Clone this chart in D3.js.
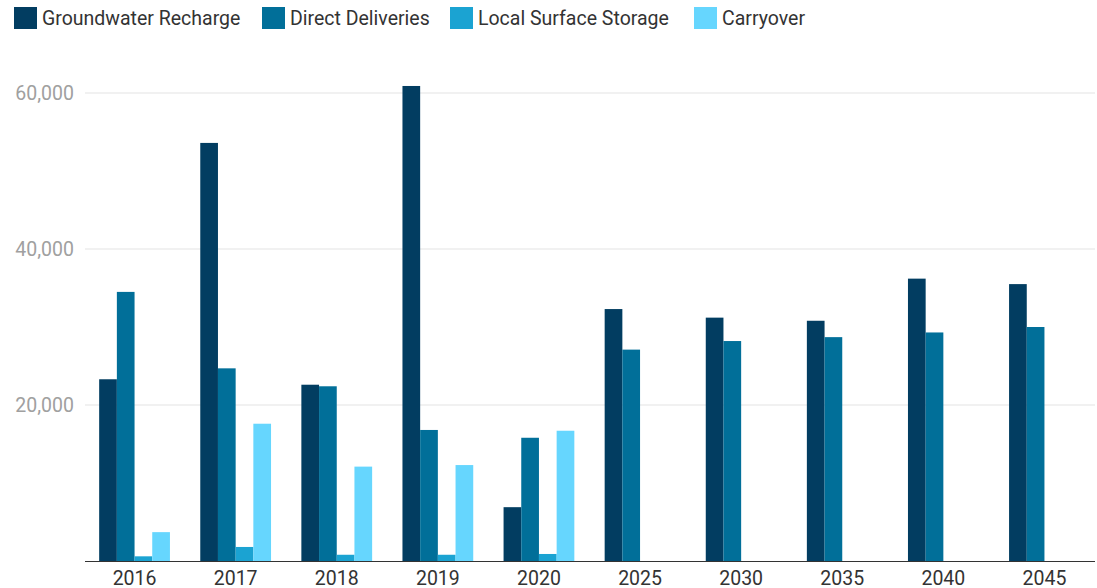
<!DOCTYPE html>
<html>
<head>
<meta charset="utf-8">
<script src="https://cdn.jsdelivr.net/npm/d3@7"></script>
<style>
  html, body { margin: 0; padding: 0; background: #fff; }
  svg { display: block; font-family: Roboto, "Noto Sans", sans-serif; }
</style>
</head>
<body>
<svg id="chart" width="1097" height="588"></svg>
<script>
// Water supply allocation by year (acre-feet)
const years = ["2016", "2017", "2018", "2019", "2020", "2025", "2030", "2035", "2040", "2045"];
const seriesNames = ["Groundwater Recharge", "Direct Deliveries", "Local Surface Storage", "Carryover"];
const groundwaterRecharge = [23300, 53600, 22600, 60900, 6900, 32300, 31200, 30800, 36200, 35500];
const directDeliveries    = [34500, 24700, 22400, 16800, 15800, 27100, 28200, 28700, 29300, 30000];
const localSurfaceStorage = [600, 1800, 800, 800, 900, null, null, null, null, null];
const carryover           = [3700, 17600, 12100, 12300, 16700, null, null, null, null, null];
const yTicks = [20000, 40000, 60000];
const colors = ["#023d61", "#016f99", "#1ba3d2", "#66d6fe"];

const values = [groundwaterRecharge, directDeliveries, localSurfaceStorage, carryover];
const rows = years.map((yr, i) => ({
  year: yr,
  vals: seriesNames.map((s, k) => ({ key: s, value: values[k][i], k }))
}));

const svg = d3.select("#chart");
const plotLeft = 84, plotRight = 1095, plotTop = 93, plotBottom = 561;
const fontSize = 19.5;

const x0 = d3.scaleBand().domain(years).range([plotLeft, plotRight]).paddingInner(0.3).paddingOuter(0.15);
const x1 = d3.scaleBand().domain(seriesNames).range([0, x0.bandwidth()]).padding(0);
const y = d3.scaleLinear().domain([0, 60000]).range([plotBottom, plotTop]);

// Gridlines
svg.append("g")
  .selectAll("line")
  .data(yTicks)
  .join("line")
  .attr("x1", 85).attr("x2", plotRight)
  .attr("y1", d => y(d)).attr("y2", d => y(d))
  .attr("stroke", "#e3e3e3").attr("stroke-width", 1);

// Y tick labels
svg.append("g")
  .selectAll("text")
  .data(yTicks)
  .join("text")
  .attr("x", 74).attr("y", d => y(d))
  .attr("dy", "0.35em")
  .attr("text-anchor", "end")
  .attr("fill", "#a0a0a0")
  .attr("font-size", fontSize)
  .text(d => d3.format(",")(d));

// Bars
svg.append("g")
  .selectAll("g")
  .data(rows)
  .join("g")
  .attr("transform", d => `translate(${x0(d.year)},0)`)
  .selectAll("rect")
  .data(d => d.vals.filter(v => v.value != null))
  .join("rect")
  .attr("x", d => x1(d.key))
  .attr("width", x1.bandwidth())
  .attr("y", d => y(d.value))
  .attr("height", d => y(0) - y(d.value))
  .attr("fill", d => colors[d.k]);

// Baseline
svg.append("line")
  .attr("x1", 85).attr("x2", plotRight)
  .attr("y1", y(0) + 0.5).attr("y2", y(0) + 0.5)
  .attr("stroke", "#333").attr("stroke-width", 1.2);

// X labels
const xAxis = d3.axisBottom(x0).tickSize(0).tickPadding(10);
const gx = svg.append("g").attr("transform", `translate(0,${y(0)})`).call(xAxis);
gx.select(".domain").remove();
gx.selectAll("text")
  .attr("font-size", fontSize)
  .attr("font-family", "Roboto, 'Noto Sans', sans-serif")
  .attr("fill", "#333");

// Legend
const legendX = [14, 262, 450, 694];
const legend = svg.append("g")
  .selectAll("g")
  .data(seriesNames)
  .join("g")
  .attr("transform", (d, i) => `translate(${legendX[i]},7)`);
legend.append("rect")
  .attr("width", 23).attr("height", 22)
  .attr("fill", (d, i) => colors[i]);
legend.append("text")
  .attr("x", 28).attr("y", 11)
  .attr("dy", "0.35em")
  .attr("font-size", fontSize)
  .attr("fill", "#333")
  .text(d => d);
</script>
</body>
</html>
